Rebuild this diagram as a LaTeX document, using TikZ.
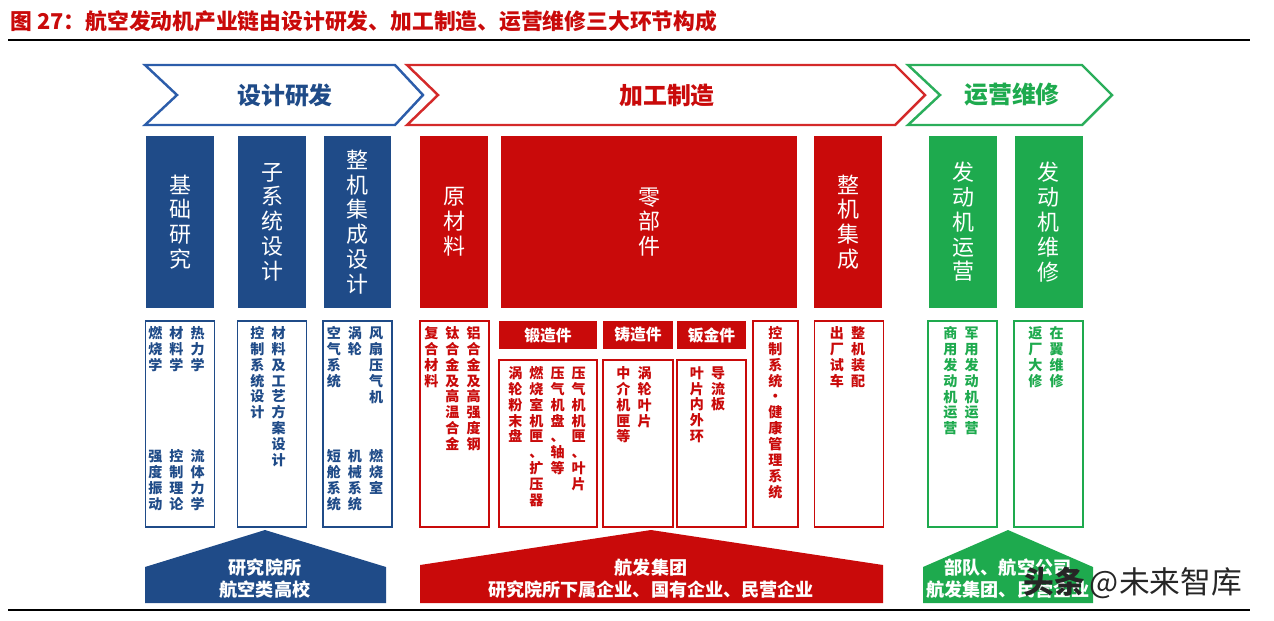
\documentclass[tikz,border=0pt]{standalone}
\usepackage{fontspec}
\setmainfont{Noto Sans CJK SC}
\usetikzlibrary{positioning}

\definecolor{dblue}{HTML}{1F4B88}
\definecolor{dred}{HTML}{C90A0A}
\definecolor{dgreen}{HTML}{1EAA4E}
\definecolor{lblue}{HTML}{2C5DAA}
\definecolor{lred}{HTML}{D42A2A}
\definecolor{lgreen}{HTML}{2BAE5B}

% stack the characters of #1 one below the other
\def\vstaux#1{\ifx#1\relax\else\hbox to 1em{\hss#1\hss}\expandafter\vstaux\fi}
\newcommand\vst[1]{\vtop{\baselineskip=1.13em\vstaux#1\relax}}
\newcommand\cgap{\hspace{4pt}}

\begin{document}
\begin{tikzpicture}[x=0.02cm, y=-0.02cm,
         tbox/.style = {fill=#1, text=white, inner sep=0pt,
                        minimum width=1.36cm, minimum height=3.44cm,
                        font=\fontsize{12.5}{14}\selectfont},
         lbox/.style = {draw=#1, fill=white, line width=1.1pt, inner sep=0pt,
                        minimum width=1.38cm, minimum height=4.12cm},
          hdr/.style = {fill=dred, text=white, inner sep=0pt,
                        minimum height=0.56cm,
                        font=\fontsize{9}{10}\bfseries},
         vtxt/.style = {text=#1, inner sep=0pt, anchor=north,
                        font=\fontsize{8}{9}\bfseries},
         chev/.style = {draw=#1, line width=1.4pt, line join=miter},
        chtxt/.style = {text=#1, font=\fontsize{13.6}{15}\bfseries},
         htxt/.style = {text=white, align=center, inner sep=0pt,
                        font=\fontsize{10.3}{12.5}\bfseries}
                        ]
\useasboundingbox (0,0) rectangle (1274,620);
% Draw the title and the rules
\node[anchor=west, text=dred, inner sep=0pt,
      font=\fontsize{12.4}{14}\bfseries] (title) at (10,21)
      {图 27：航空发动机产业链由设计研发、加工制造、运营维修三大环节构成};
\draw[line width=1.2pt] (8,40) -- (1250,40);
\draw[line width=1.2pt] (8,610) -- (1250,610);
% Draw the three stages
\draw[chev=lblue] (145,65) -- (395,65) -- (423,95) -- (395,125)
      -- (145,125) -- (177,95) -- cycle;
\node[chtxt=dblue] (sjyf) at (285,95) {设计研发};
\draw[chev=lred] (407,65) -- (895,65) -- (925,95) -- (895,125)
      -- (407,125) -- (438,95) -- cycle;
\node[chtxt=dred] (jgzz) at (667,95) {加工制造};
\draw[chev=lgreen] (908,65) -- (1082,65) -- (1112,95) -- (1082,125)
      -- (908,125) -- (940,95) -- cycle;
\node[chtxt=dgreen] (yywx) at (1012,95) {运营维修};
% Draw the filled boxes
\foreach \n/\x/\col/\txt in {jcyj/180/dblue/基础研究, zxtsj/272/dblue/子系统设计,
        zjjcsj/357.5/dblue/整机集成设计, ycl/454/dred/原材料,
        zjjc/848/dred/整机集成, fdjyy/963/dgreen/发动机运营,
        fdjwx/1048.5/dgreen/发动机维修}
    \node[tbox=\col] (\n) at (\x,222) {\expandafter\vst\expandafter{\txt}};
    \node[tbox=dred, minimum width=5.92cm] (lbj) at (649,222) {\vst{零部件}};
% Draw the outlined boxes
\foreach \n/\x/\col in {lb1/180/dblue, lb2/272/dblue, lb3/357.5/dblue,
        lr1/454.5/dred, lr5/849/dred, lg1/962.5/dgreen, lg2/1048.5/dgreen}
    \node[lbox=\col] (\n) at (\x,424) {};
    \node[lbox=dred, minimum width=0.9cm] (lr4) at (775.5,424) {};
\foreach \n/\x/\w/\txt in {dz/548/1.96cm/锻造件, zz/638/1.4cm/铸造件,
        bj/711.5/1.38cm/钣金件}
{
    \node[hdr, minimum width=\w] (\n) at (\x,335) {\txt};
    \node[lbox=dred, minimum width=\w, minimum height=3.34cm]
          (\n-box) at (\x,443.5) {};
}
% Texts of the outlined boxes
\node[vtxt=dblue] (lb1-a) at (176.5,326)
      {\vst{燃烧学}\cgap\vst{材料学}\cgap\vst{热力学}};
\node[vtxt=dblue] (lb1-b) at (176.5,449)
      {\vst{强度振动}\cgap\vst{控制理论}\cgap\vst{流体力学}};
\node[vtxt=dblue] (lb2-a) at (268,326)
      {\vst{控制系统设计}\cgap\vst{材料及工艺方案设计}};
\node[vtxt=dblue] (lb3-a) at (355,326)
      {\vst{空气系统}\cgap\vst{涡轮}\cgap\vst{风扇压气机}};
\node[vtxt=dblue] (lb3-b) at (355,449)
      {\vst{短舱系统}\cgap\vst{机械系统}\cgap\vst{燃烧室}};
\node[vtxt=dred] (lr1-a) at (452.5,326)
      {\vst{复合材料}\cgap\vst{钛合金及高温合金}\cgap\vst{铝合金及高强度钢}};
\node[vtxt=dred] (dz-a) at (547,366)
      {\vst{涡轮粉末盘}\cgap\vst{燃烧室机匣、扩压器}\cgap\vst{压气机盘、轴等}\cgap\vst{压气机机匣、叶片}};
\node[vtxt=dred] (zz-a) at (634,366)
      {\vst{中介机匣等}\cgap\vst{涡轮叶片}};
\node[vtxt=dred] (bj-a) at (707.5,366)
      {\vst{叶片内外环}\cgap\vst{导流板}};
\node[vtxt=dred] (lr4-a) at (775.5,326) {\vst{控制系统·健康管理系统}};
\node[vtxt=dred] (lr5-a) at (847.5,326)
      {\vst{出厂试车}\cgap\vst{整机装配}};
\node[vtxt=dgreen] (lg1-a) at (961,326)
      {\vst{商用发动机运营}\cgap\vst{军用发动机运营}};
\node[vtxt=dgreen] (lg2-a) at (1046,326)
      {\vst{返厂大修}\cgap\vst{在翼维修}};
% Draw the players under each stage
\fill[dblue] (145,603) -- (145,567) -- (265,530) -- (386,567) -- (386,603) -- cycle;
\node[htxt] (yjys) at (265,579) {研究院所\\航空类高校};
\fill[dred] (420,603) -- (420,565) -- (651,530) -- (883,565) -- (883,603) -- cycle;
\node[htxt] (hfjt) at (651,579) {航发集团\\研究院所下属企业、国有企业、民营企业};
\fill[dgreen] (923,603) -- (923,567) -- (1008,530) -- (1093,567) -- (1093,603) -- cycle;
\node[htxt] (bdhk) at (1008,579) {部队、航空公司\\航发集团、民营企业};
% watermark
\node[anchor=west, inner sep=0pt, text=black!85,
      font=\fontsize{17.5}{20}\selectfont] (wm) at (1023,583)
      {{\bfseries 头条}\,@未来智库};
\end{tikzpicture}
\end{document}
